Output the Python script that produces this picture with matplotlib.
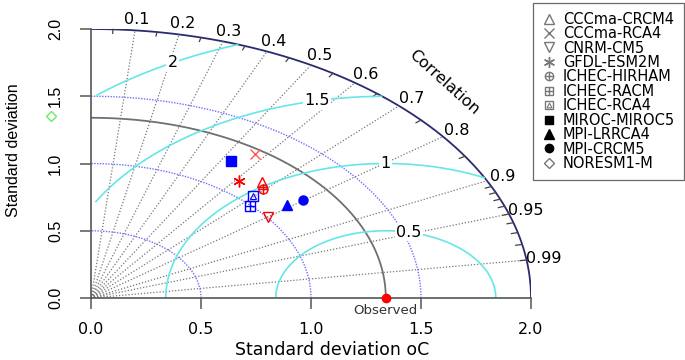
import numpy as np
import matplotlib.pyplot as plt
from matplotlib.legend_handler import HandlerTuple

plt.rcParams['font.family'] = ['DejaVu Sans']

# 模式名、标准差、相关系数
models = ["CCCma-CRCM4", "CCCma-RCA4", "CNRM-CM5", "GFDL-ESM2M", "ICHEC-HIRHAM",
          "ICHEC-RACM", "ICHEC-RCA4", "MIROC-MIROC5", "MPI-LRRCA4", "MPI-CRCM5", "NORESM1-M"]
sd = [1.160, 1.304, 1.005, 1.100, 1.126, 0.995, 1.057, 1.201, 1.126, 1.209, 1.362]
cor = [0.670, 0.571, 0.801, 0.612, 0.694, 0.727, 0.697, 0.530, 0.790, 0.797, -0.132]
colors = ["red", "#ff5a5a", "red", "red", "red", "blue", "blue", "blue", "blue", "blue", "#66ee66"]

sd_ref = 1.34
sd_max = 2.0
sd_ticks = [0.0, 0.5, 1.0, 1.5, 2.0]
cor_lines = [0.1, 0.2, 0.3, 0.4, 0.5, 0.6, 0.7, 0.8, 0.9, 0.95, 0.99]
rms_levels = [0.5, 1.0, 1.5, 2.0]
rms_labels = ["0.5", "1", "1.5", "2"]
rms_label_ang = [78, 90, 102, 119]

fig = plt.figure(figsize=(6.85, 3.6), dpi=100)
ax = fig.add_axes([91/685, 62/360, 440/685, 269/360])
ax.set_xlim(0, 2)
ax.set_ylim(0, 2)
for s in ['top', 'right']:
    ax.spines[s].set_visible(False)
for s in ['left', 'bottom']:
    ax.spines[s].set_color('#555555')
    ax.spines[s].set_linewidth(1.2)
ax.set_xticks(sd_ticks)
ax.set_yticks(sd_ticks)
ax.set_xticklabels(["%.1f" % v for v in sd_ticks], fontsize=11.5)
ax.set_yticklabels(["%.1f" % v for v in sd_ticks], fontsize=11.5, rotation=90, va='center',
                   family='Liberation Sans')
ax.tick_params(length=8, width=1.1, color='#555555')
ax.tick_params(axis='x', pad=9)
ax.tick_params(axis='y', pad=12)
ax.set_xlabel("Standard deviation oC", fontsize=12.5)
ax.xaxis.set_label_coords(0.548, -0.158)
ax.set_ylabel("Standard deviation", fontsize=11.5, family='Liberation Sans')
ax.yaxis.set_label_coords(-0.159, 0.55)

# 等标准差弧线
t = np.linspace(0, np.pi/2, 300)
for r in [0.5, 1.0, 1.5]:
    ax.plot(r*np.cos(t), r*np.sin(t), color='#6f6fff', lw=1, ls=(0, (1, 1)))
ax.plot(sd_max*np.cos(t), sd_max*np.sin(t), color='#2a2a70', lw=1.3)
ax.plot(sd_ref*np.cos(t), sd_ref*np.sin(t), color='#707070', lw=1.3)

# 相关系数射线与刻度
for c in cor_lines:
    a = np.arccos(c)
    ax.plot([0, sd_max*np.cos(a)], [0, sd_max*np.sin(a)], color='#777777', lw=0.9, ls=(0, (1, 1.5)))
    ax.text(2.08*np.cos(a), 2.08*np.sin(a), str(c), fontsize=11.5, ha='center', va='center')
minor = list(np.arange(0.05, 0.9, 0.1)) + list(np.arange(0.91, 0.995, 0.01))
for c in minor:
    a = np.arccos(c)
    ax.plot([1.97*np.cos(a), sd_max*np.cos(a)], [1.97*np.sin(a), sd_max*np.sin(a)],
            color='#444444', lw=0.9, clip_on=False)
ax.text(2.27*np.cos(np.radians(45)), 2.27*np.sin(np.radians(45)), "Correlation",
        fontsize=11.5, rotation=-42, ha='center', va='center')

# 中心化均方根误差等值线
tt = np.linspace(0, np.pi, 600)
for lev, lab, ang in zip(rms_levels, rms_labels, rms_label_ang):
    xx = sd_ref + lev*np.cos(tt)
    yy = lev*np.sin(tt)
    bad = (xx < 0.02) | (xx**2 + yy**2 > sd_max**2)
    xx[bad] = np.nan
    ax.plot(xx, yy, color='#66e6e6', lw=1.2)
    ar = np.radians(ang)
    ax.text(sd_ref + lev*np.cos(ar), lev*np.sin(ar), lab, fontsize=11.5, ha='center', va='center',
            bbox=dict(facecolor='white', edgecolor='none', pad=1))

# 观测点
ax.plot([sd_ref], [0], 'o', color='red', ms=6, clip_on=False, zorder=5)
ax.text(sd_ref, -0.095, "Observed", fontsize=9.5, ha='center', va='center', color='#333333')

# 模式点
def draw_marker(k, x, y, col, size, axx, clip=True):
    kw = dict(linestyle='none', clip_on=clip, zorder=6)
    if k == 0:
        return [axx.plot(x, y, '^', mfc='none', mec=col, ms=size, mew=1, **kw)[0]]
    if k == 1:
        return [axx.plot(x, y, 'x', color=col, ms=size, mew=1, **kw)[0]]
    if k == 2:
        return [axx.plot(x, y, 'v', mfc='none', mec=col, ms=size, mew=1, **kw)[0]]
    if k == 3:
        return [axx.plot(x, y, marker=(6, 2, 0), color=col, ms=size+1, mew=1, **kw)[0]]
    if k == 4:
        return [axx.plot(x, y, 'o', mfc='none', mec=col, ms=size-1, mew=1, **kw)[0],
                axx.plot(x, y, '+', color=col, ms=size-1, mew=1, **kw)[0]]
    if k == 5:
        return [axx.plot(x, y, 's', mfc='none', mec=col, ms=size-1, mew=1, **kw)[0],
                axx.plot(x, y, '+', color=col, ms=size-1, mew=1, **kw)[0]]
    if k == 6:
        return [axx.plot(x, y, 's', mfc='none', mec=col, ms=size-1, mew=1, **kw)[0],
                axx.plot(x, y, '^', mfc='none', mec=col, ms=size-3.5, mew=0.8, **kw)[0]]
    if k == 7:
        return [axx.plot(x, y, 's', color=col, ms=size-1, **kw)[0]]
    if k == 8:
        return [axx.plot(x, y, '^', color=col, ms=size, **kw)[0]]
    if k == 9:
        return [axx.plot(x, y, 'o', color=col, ms=size-1, **kw)[0]]
    return [axx.plot(x, y, 'D', mfc='none', mec=col, ms=size-2, mew=1, **kw)[0]]

for k in range(len(models)):
    x = sd[k]*cor[k]
    y = sd[k]*np.sqrt(1 - cor[k]**2)
    draw_marker(k, [x], [y], colors[k], 7.5, ax, clip=False)

# 图例
handles = []
lax = fig.add_axes([0, 0, 0.01, 0.01])
lax.set_axis_off()
for k in range(len(models)):
    col = '#777777' if k in (0, 1, 2, 3, 4, 5, 6, 10) else 'black'
    hs = draw_marker(k, [], [], col, 7, lax)
    handles.append(tuple(hs))
leg = fig.legend(handles, models, loc='upper right', bbox_to_anchor=(684/685, 357/360),
                 handler_map={tuple: HandlerTuple(ndivide=1, pad=0)}, fontsize=10.5,
                 frameon=True, fancybox=False, edgecolor='#444444', handlelength=1.0,
                 handletextpad=0.5, labelspacing=-0.04, borderpad=0.6, borderaxespad=0)
leg.get_frame().set_linewidth(0.9)

fig.savefig("out.png", dpi=100)
